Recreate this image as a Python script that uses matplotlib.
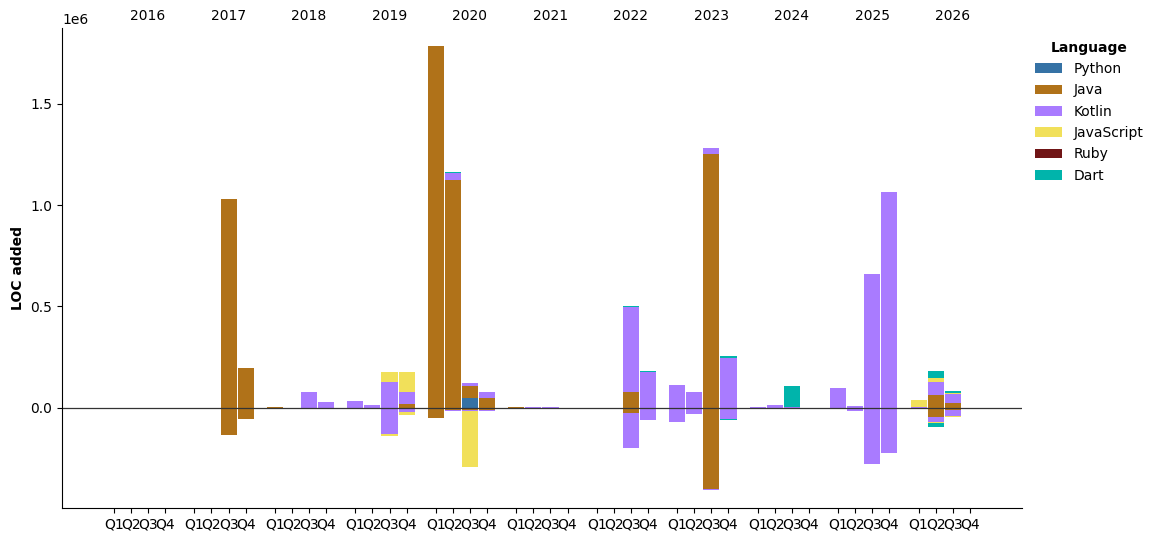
import matplotlib
matplotlib.use("Agg")
import matplotlib.pyplot as plt
from matplotlib.patches import Patch
import numpy as np

years = [2016, 2017, 2018, 2019, 2020, 2021, 2022, 2023, 2024, 2025, 2026]
quarters = ["Q1", "Q2", "Q3", "Q4"]

# periods that carry data (year, quarter)
periods = [
    (2017, 3), (2017, 4), (2018, 1), (2018, 3), (2018, 4),
    (2019, 1), (2019, 2), (2019, 3), (2019, 4),
    (2020, 1), (2020, 2), (2020, 3), (2020, 4),
    (2021, 1), (2021, 2), (2021, 3),
    (2022, 3), (2022, 4),
    (2023, 1), (2023, 2), (2023, 3), (2023, 4),
    (2024, 1), (2024, 2), (2024, 3),
    (2025, 1), (2025, 2), (2025, 3), (2025, 4),
    (2026, 1), (2026, 2), (2026, 3),
]

languages = ["Python", "Java", "Kotlin", "JavaScript", "Ruby", "Dart"]
lang_colors = ["#3572A5", "#B07219", "#A97BFF", "#F1E05A", "#701516", "#00B4AB"]

# LOC added (positive) per period, in thousands
python_added = [0, 0, 0, 0, 0, 0, 0, 0, 0, 0, 0, 51, 0, 0, 0, 0,
                0, 0, 0, 0, 0, 0, 0, 0, 0, 0, 0, 0, 0, 0, 0, 0]
java_added = [1030, 198, 6, 0, 0, 0, 0, 0, 21, 1785, 1125, 59, 51, 6, 0, 0,
              80, 0, 0, 0, 1253, 0, 0, 0, 0, 0, 0, 0, 0, 0, 65, 26]
kotlin_added = [0, 0, 0, 80, 31, 36, 16, 130, 59, 0, 34, 15, 29, 0, 4, 4,
                419, 179, 115, 80, 29, 248, 6, 16, 5, 100, 11, 662, 1062, 6, 65, 44]
javascript_added = [0, 0, 0, 0, 0, 0, 0, 48, 98, 0, 0, 0, 0, 0, 0, 0,
                    0, 0, 0, 0, 0, 0, 0, 0, 0, 0, 0, 0, 0, 35, 20, 5]
ruby_added = [0] * 32
dart_added = [0, 0, 0, 0, 0, 0, 0, 0, 0, 0, 5, 0, 0, 0, 0, 0,
              5, 4, 0, 0, 0, 10, 0, 0, 105, 0, 0, 0, 0, 0, 34, 10]

# LOC removed (negative) per period, in thousands
python_removed = [0] * 32
java_removed = [-131, -53, 0, 0, 0, 0, 0, 0, 0, -48, -12, -10, -12, 0, 0, 0,
                -23, 0, 0, 0, -397, 0, 0, 0, 0, 0, 0, 0, 0, 0, -43, -8]
kotlin_removed = [0, 0, 0, 0, 0, 0, 0, -127, -18, 0, -5, -3, -5, 0, 0, 0,
                  -173, -58, -67, -30, -5, -53, 0, 0, 0, 0, -13, -274, -224, 0, -24, -30]
javascript_removed = [0, 0, 0, 0, 0, 0, 0, -10, -15, 0, 0, -276, 0, 0, 0, 0,
                      0, 0, 0, 0, 0, 0, 0, 0, 0, 0, 0, 0, 0, 0, -5, -5]
ruby_removed = [0] * 32
dart_removed = [0, 0, 0, 0, 0, 0, 0, 0, 0, 0, 0, 0, 0, 0, 0, 0,
                0, 0, 0, 0, 0, -5, 0, 0, 0, 0, 0, 0, 0, 0, -20, 0]

added = [python_added, java_added, kotlin_added, javascript_added, ruby_added, dart_added]
removed = [python_removed, java_removed, kotlin_removed, javascript_removed, ruby_removed, dart_removed]

STEP = 0.2125
BAR_W = 0.2
def xpos(year, q):
    return years.index(year) + (q - 3) * STEP

fig = plt.figure(figsize=(11.59, 5.42), dpi=100)
ax = fig.add_axes([0.0535, 0.0627, 0.8283, 0.8856])

x = np.array([xpos(y, q) for (y, q) in periods])
pos_base = np.zeros(len(periods))
neg_base = np.zeros(len(periods))
for lang, col, a, r in zip(languages, lang_colors, added, removed):
    a = np.array(a, dtype=float) * 1000
    r = np.array(r, dtype=float) * 1000
    ax.bar(x, a, width=BAR_W, bottom=pos_base, color=col, linewidth=0)
    ax.bar(x, r, width=BAR_W, bottom=neg_base, color=col, linewidth=0)
    pos_base += a
    neg_base += r

ax.axhline(0, color="#333333", linewidth=0.9)

# quarter ticks
qticks = [xpos(y, q) for y in years for q in range(1, 5)]
qlabels = [quarters[q - 1] for y in years for q in range(1, 5)]
ax.set_xticks(qticks)
ax.set_xticklabels(qlabels)
ax.set_xlim(-1.07, 10.86)
ax.set_ylim(-0.493e6, 1.872e6)
ax.set_ylabel("LOC added", fontweight="bold")
ax.spines["top"].set_visible(False)
ax.spines["right"].set_visible(False)

sec = ax.secondary_xaxis("top")
sec.set_xticks([xpos(y, 3) for y in years])
sec.set_xticklabels([str(y) for y in years])
sec.tick_params(length=0)
sec.spines["top"].set_visible(False)

handles = [Patch(facecolor=c, label=l) for l, c in zip(languages, lang_colors)]
leg = ax.legend(handles=handles, title="Language", loc="upper left",
                bbox_to_anchor=(1.0, 1.0), frameon=False, labelspacing=0.53)
leg.get_title().set_fontweight("bold")

fig.savefig("out.png", dpi=100)
